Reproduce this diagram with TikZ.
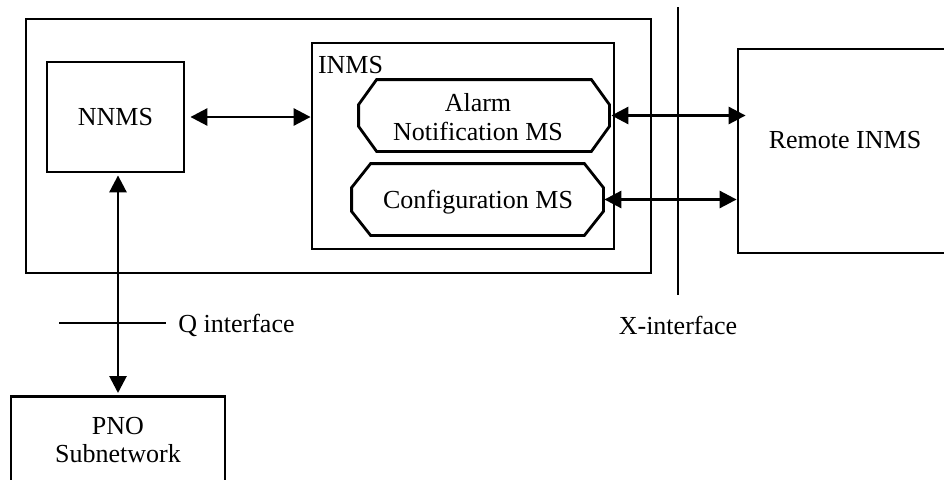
\documentclass[tikz,border=0pt]{standalone}
\usepackage{fontspec}
\setmainfont{Liberation Serif}
\usetikzlibrary{arrows.meta,calc}
\newcommand{\octpath}[3]{% node, dx, dy
  \draw ($(#1.north west)+(#2,0)$) -- ($(#1.north east)+(-#2,0)$)
    -- ($(#1.north east)+(0,#3)$) -- ($(#1.south east)+(0,-#3)$)
    -- ($(#1.south east)+(-#2,0)$) -- ($(#1.south west)+(#2,0)$)
    -- ($(#1.south west)+(0,-#3)$) -- ($(#1.north west)+(0,#3)$) -- cycle;}
\begin{document}
\begin{tikzpicture}[x=1pt,y=-1pt,line width=2.8pt,
  every node/.style={font=\fontsize{26}{28.5}\selectfont},
  box/.style={draw,rectangle,inner sep=0pt},
  octbox/.style={rectangle,inner sep=0pt},
  link/.style={{Triangle[length=17pt,width=17pt]}-{Triangle[length=17pt,width=17pt]}},
  plain/.style={inner sep=0pt}]
\useasboundingbox (0,0) rectangle (944,479);
\clip (0,0) rectangle (944,479);
% boxes
\node[box,minimum width=625pt,minimum height=254pt] (outer) at (338.5,146) {};
\node[box,minimum width=137pt,minimum height=110pt] (nnms) at (115.5,117) {NNMS};
\node[box,minimum width=302pt,minimum height=206pt] (inms) at (463,146) {};
\node[plain,anchor=north west] (inmslabel) at ($(inms.north west)+(6,13)$) {INMS};
\node[octbox,minimum width=248pt,minimum height=69pt] (alarm) at (484,115.5) {};
\octpath{alarm}{18}{25}
\node[align=center] (alarmtext) at (478,117) {Alarm\\Notification MS};
\node[octbox,minimum width=249pt,minimum height=69pt] (config) at (477.5,199.5) {};
\octpath{config}{19}{24}
\node (configtext) at (478,202) {Configuration MS};
\node[box,minimum width=240pt,minimum height=204pt] (remote) at (858,151) {};
\node (remotetext) at (845,140) {Remote INMS};
\node[box,minimum width=214pt,minimum height=130pt,anchor=north] (pno) at (118,395) {};
\node[align=center] (pnotext) at (118,440) {PNO\\Subnetwork};
% interfaces
\coordinate (q1) at (59,323);
\coordinate (q2) at (166,323);
\draw (q1) -- (q2);
\node[plain,anchor=base west] (qlabel) at (177,332) {Q interface};
\coordinate (x1) at (678,7);
\coordinate (x2) at (678,295);
\draw (x1) -- (x2);
\node[plain,anchor=base] (xlabel) at (678,334) {X-interface};
% connectors
\draw[link,shorten <=5pt] (nnms.east) -- (nnms.east -| inms.west);
\draw[link,shorten <=2pt,shorten >=-9pt] (alarm.east) -- (alarm.east -| remote.west);
\draw[link,shorten <=1pt] (config.east) -- (config.east -| remote.west);
\draw[link,shorten <=2pt,shorten >=2pt] (pno.north |- nnms.south) -- (pno.north);
\end{tikzpicture}
\end{document}
